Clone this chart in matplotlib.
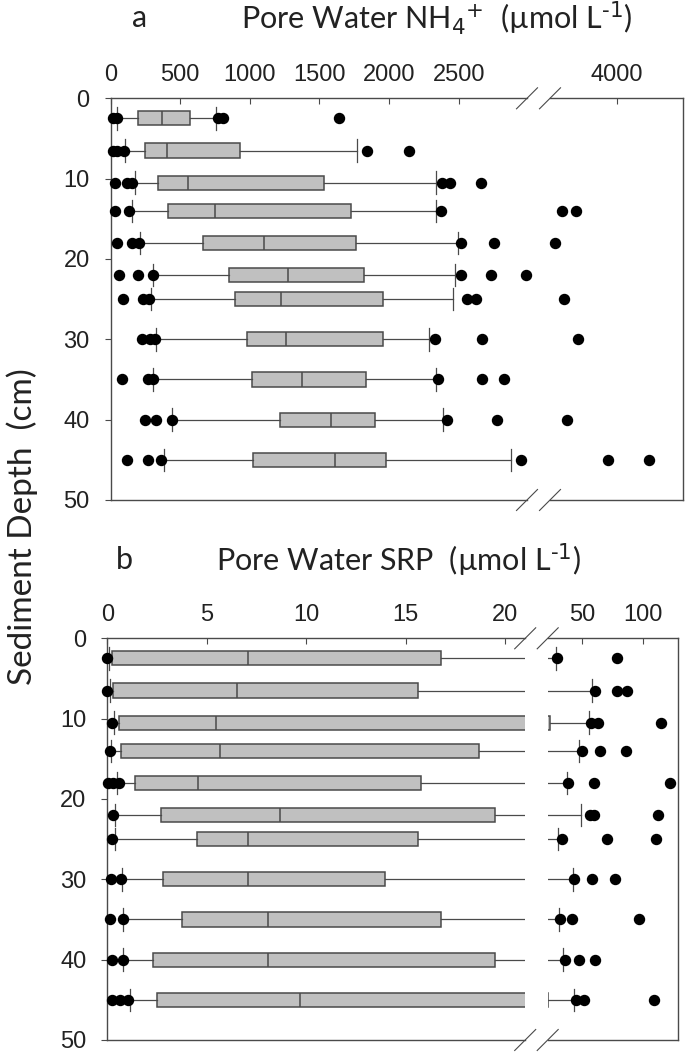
import matplotlib
matplotlib.use('Agg')
import matplotlib.pyplot as plt

# depth of each sampled interval (cm)
depths = [2.5, 6.5, 10.5, 14, 18, 22, 25, 30, 35, 40, 45]

# pore water NH4+ (umol/L) box statistics per depth
nh4_whislo = [44, 104, 176, 157, 211, 307, 290, 324, 307, 443, 384]
nh4_q1 = [195, 247, 338, 410, 665, 852, 897, 981, 1019, 1220, 1024]
nh4_med = [367, 405, 558, 751, 1105, 1275, 1227, 1263, 1375, 1583, 1614]
nh4_q3 = [570, 933, 1535, 1729, 1765, 1817, 1956, 1956, 1836, 1898, 1980]
nh4_whishi = [756, 1767, 2338, 2338, 2498, 2474, 2462, 2285, 2338, 2386, 2876]
nh4_fliers = [
  [20, 50, 770, 805, 1638],
  [18, 47, 97, 1844, 2143],
  [32, 116, 154, 2381, 2439, 2663],
  [32, 133, 2374, 3604, 3706],
  [44, 152, 207, 2513, 2756, 3556],
  [61, 199, 307, 2517, 2735, 2985],
  [92, 235, 278, 2561, 2625, 3622],
  [224, 283, 319, 2326, 2668, 3720],
  [85, 271, 307, 2350, 2668, 2828],
  [247, 326, 443, 2414, 2776, 3644],
  [116, 271, 362, 2948, 3938, 4229],
]

# pore water SRP (umol/L) box statistics per depth
srp_whislo = [0.1, 0.14, 0.34, 0.17, 0.5, 0.39, 0.39, 0.72, 0.8, 0.8, 1.14]
srp_q1 = [0.22, 0.27, 0.6, 0.69, 1.39, 2.7, 4.49, 2.8, 3.74, 2.28, 2.48]
srp_med = [7.06, 6.5, 5.46, 5.66, 4.57, 8.68, 7.07, 7.07, 8.06, 8.06, 9.68]
srp_q3 = [16.78, 15.6, 23.0, 18.66, 15.75, 19.5, 15.6, 13.94, 16.75, 19.5, 21.7]
srp_whishi = [28.5, 58.2, 55.7, 47.5, 37.2, 49.2, 30.3, 42.1, 30.9, 34.4, 43.2]
srp_fliers = [
  [0.0, 29, 78.7],
  [0.0, 60.4, 78.7, 86.4],
  [0.25, 56.9, 63.1, 114.5],
  [0.14, 49.5, 64.5, 85.6],
  [0.05, 0.3, 0.6, 38.5, 59.8, 121.9],
  [0.3, 56.3, 59.6, 112.3],
  [0.25, 33.6, 70, 110],
  [0.19, 0.69, 43.4, 57.7, 76.8],
  [0.14, 0.8, 31.7, 41.2, 96.7],
  [0.22, 0.8, 35.8, 47.5, 60.4],
  [0.22, 0.64, 1.06, 44.8, 51.4, 109],
]

nh4_ticks_left = [0, 500, 1000, 1500, 2000, 2500]
nh4_ticks_right = [4000]
srp_ticks_left = [0, 5, 10, 15, 20]
srp_ticks_right = [50, 100]
depth_ticks = [0, 10, 20, 30, 40, 50]

W, H = 685, 1053
fig = plt.figure(figsize=(W/100., H/100.), dpi=100)

TICKFONT = 'Liberation Sans'
TITLEFONT = 'Lato'
EDGE = '#4a4a4a'

def draw_panel(axl, axr, whislo, q1, med, q3, whishi, fliers, xl, xr, tl, tr):
  stats = []
  for i in range(len(depths)):
    stats.append({'whislo': whislo[i], 'q1': q1[i], 'med': med[i],
                  'q3': q3[i], 'whishi': whishi[i], 'fliers': []})
  for ax, lim, ticks in ((axl, xl, tl), (axr, xr, tr)):
    ax.bxp(stats, positions=depths, vert=False, widths=1.75, capwidths=2.8,
           patch_artist=True, showfliers=False, manage_ticks=False,
           boxprops=dict(facecolor='#c0c0c0', edgecolor=EDGE, linewidth=1.1),
           medianprops=dict(color=EDGE, linewidth=1.1),
           whiskerprops=dict(color=EDGE, linewidth=0.9),
           capprops=dict(color=EDGE, linewidth=0.9))
    for d, fl in zip(depths, fliers):
      pts = [v for v in fl if lim[0] <= v <= lim[1]]
      ax.plot(pts, [d]*len(pts), 'o', color='black', markersize=7.2,
              clip_on=False, zorder=5)
    ax.set_xlim(lim)
    ax.set_ylim(50, 0)
    ax.xaxis.tick_top()
    ax.set_xticks(ticks)
    ax.tick_params(axis='x', direction='in', length=4, width=0.8, color=EDGE,
                   pad=9, labelsize=17, labelcolor='#222222')
    for lab in ax.get_xticklabels():
      lab.set_fontfamily(TICKFONT)
    for s in ax.spines.values():
      s.set_color(EDGE)
      s.set_linewidth(1.0)
  axl.set_yticks(depth_ticks)
  axl.set_yticklabels([str(t) for t in depth_ticks])
  axl.tick_params(axis='y', direction='out', length=4, width=0.8, color=EDGE,
                  pad=11, labelsize=17, labelcolor='#222222')
  for lab in axl.get_yticklabels():
    lab.set_fontfamily(TICKFONT)
  axl.spines['right'].set_visible(False)
  axr.spines['left'].set_visible(False)
  axr.set_yticks([])
  # break marks
  wl = axl.get_position().width * W
  wr = axr.get_position().width * W
  hh = axl.get_position().height * H
  s = 10.5
  for yy in (0, 1):
    axl.plot([1 - s/wl, 1 + s/wl], [yy - s/hh, yy + s/hh], transform=axl.transAxes,
             color=EDGE, lw=0.8, clip_on=False)
    axr.plot([-s/wr, s/wr], [yy - s/hh, yy + s/hh], transform=axr.transAxes,
             color=EDGE, lw=0.8, clip_on=False)

# panel a
ya0, ya1 = 98.3, 500.0
axa_l = fig.add_axes([110.5/W, 1 - ya1/H, (527.0-110.5)/W, (ya1-ya0)/H])
axa_r = fig.add_axes([550.0/W, 1 - ya1/H, (683.3-550.0)/W, (ya1-ya0)/H])
draw_panel(axa_l, axa_r, nh4_whislo, nh4_q1, nh4_med, nh4_q3, nh4_whishi, nh4_fliers,
           (0, 2990), (3520, 4475), nh4_ticks_left, nh4_ticks_right)

# panel b
yb0, yb1 = 638.3, 1040.0
axb_l = fig.add_axes([107.3/W, 1 - yb1/H, (525.2-107.3)/W, (yb1-yb0)/H])
axb_r = fig.add_axes([547.7/W, 1 - yb1/H, (678.0-547.7)/W, (yb1-yb0)/H])
draw_panel(axb_l, axb_r, srp_whislo, srp_q1, srp_med, srp_q3, srp_whishi, srp_fliers,
           (0, 21), (21.5, 128.4), srp_ticks_left, srp_ticks_right)

tkw = dict(fontsize=22, family=TITLEFONT, ha='center', va='center', color='#222222')
fig.text(140/W, 1 - 18/H, 'a', **tkw)
fig.text(437/W, 1 - 18/H, r'Pore Water NH$_4{}^{+}$  (µmol L$^{\text{-}1}$)', **tkw)
fig.text(124/W, 1 - 560/H, 'b', **tkw)
fig.text(399/W, 1 - 560/H, r'Pore Water SRP  (µmol L$^{\text{-}1}$)', **tkw)
fig.text(22/W, 1 - 527/H, 'Sediment Depth  (cm)', fontsize=24, family=TITLEFONT,
         rotation=90, ha='center', va='center', color='#222222')

plt.rcParams['mathtext.fontset'] = 'custom'
plt.rcParams['mathtext.rm'] = TITLEFONT
plt.rcParams['mathtext.it'] = TITLEFONT
plt.savefig('out.png', dpi=100)
